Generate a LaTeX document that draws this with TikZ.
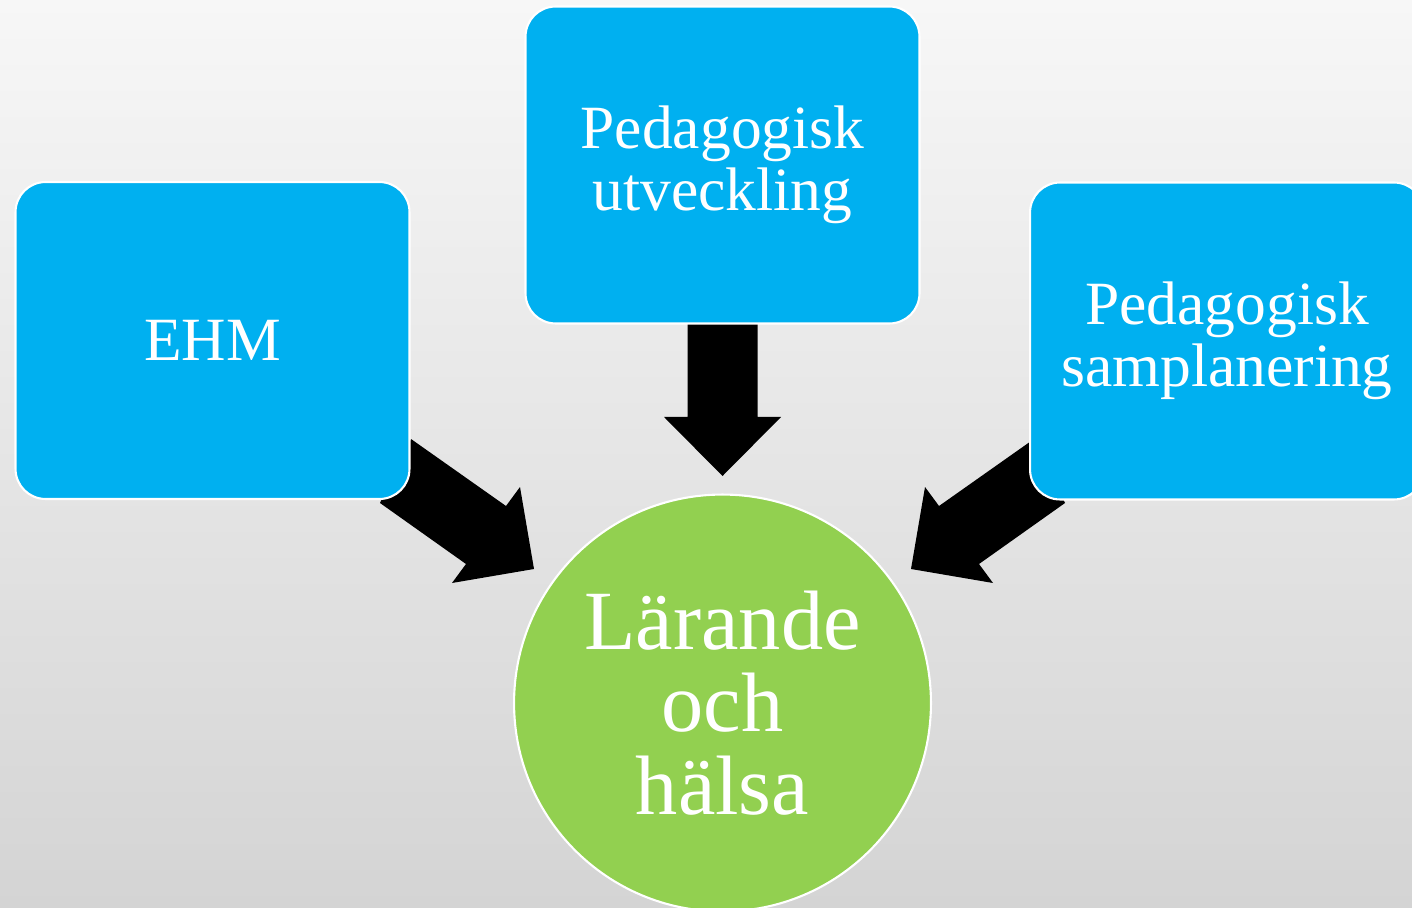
\documentclass[tikz,border=0pt]{standalone}
\usepackage{fontspec}
\setmainfont{Liberation Serif}
\usepackage{xcolor}
\usepackage{tikz}

\definecolor{bgtop}{RGB}{247,247,247}
\definecolor{bgbottom}{RGB}{212,212,212}
\definecolor{boxblue}{RGB}{0,176,240}
\definecolor{leafgreen}{RGB}{146,208,80}

\tikzset{
  topic/.style={rectangle, rounded corners=0.6cm, fill=boxblue, draw=white, line width=1.2pt,
    minimum width=7.88cm, minimum height=6.34cm, inner sep=0pt, text=white, align=center,
    font=\fontsize{35}{35}\selectfont},
  goal/.style={circle, fill=leafgreen, draw=white, line width=1.2pt, minimum size=8.34cm,
    inner sep=0pt, text=white, align=center, font=\fontsize{48}{47}\selectfont},
  blockarrow/.style={fill=black}
}

\begin{document}
\begin{tikzpicture}[x=0.02cm, y=-0.02cm]
\useasboundingbox (0,0) rectangle (1412,908);
\clip (0,0) rectangle (1412,908);
\shade[top color=bgtop, bottom color=bgbottom] (0,0) rectangle (1412,908);

\fill[blockarrow] (687.5,323) -- (757.5,323) -- (757.5,417) -- (781,417) -- (722.5,476) -- (664,417) -- (687.5,417) -- cycle;
\fill[blockarrow] (411,439) -- (506,506) -- (520,487) -- (534,569) -- (452,583) -- (466,564) -- (380,503) -- cycle;
\fill[blockarrow] (1034,439) -- (939,506) -- (925,487) -- (911,569) -- (993,583) -- (979,564) -- (1065,503) -- cycle;

\node[topic] (ehm) at (212.5,340.5) {EHM};
\node[topic] (utveckling) at (722.5,165) {Pedagogisk\\utveckling};
\node[topic] (samplanering) at (1227,341) {Pedagogisk\\samplanering};
\node[goal] (larande) at (722.5,703) {Lärande\\och\\hälsa};
\end{tikzpicture}
\end{document}
